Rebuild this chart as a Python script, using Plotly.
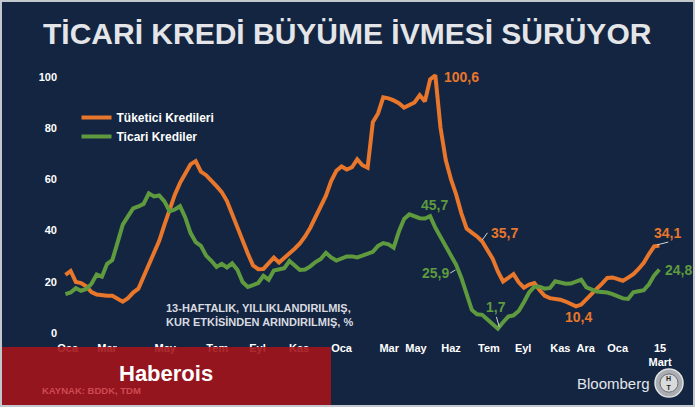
import pandas as pd
import plotly.graph_objects as go

# Weekly data (Fridays), 13-week annualised growth, %
start_date = "2019-01-04"
n_weeks = 115

tuketici = [22.7, 24.2, 19.9, 19.5, 18.2, 16.0, 15.0, 14.7, 14.5, 14.5,
            13.3, 12.2, 13.6, 15.8, 17.3, 22.0, 26.5, 30.5, 36.0, 42.2,
            48.0, 54.0, 58.6, 62.5, 65.8, 67.1, 63.0, 61.6, 59.6, 57.3,
            55.0, 51.5, 46.4, 41.1, 35.4, 31.0, 26.4, 24.9, 25.0, 27.3,
            29.4, 27.5, 29.2, 31.0, 32.9, 35.0, 37.7, 41.1, 45.0, 49.3,
            53.6, 59.3, 63.3, 65.0, 63.8, 64.7, 67.8, 65.5, 64.5, 82.3,
            85.7, 92.0, 91.6, 90.8, 89.7, 88.0, 88.8, 90.0, 92.8, 90.4,
            99.0, 100.6, 80.0, 67.5, 60.0, 54.0, 46.7, 40.8, 39.2, 37.7,
            35.7, 32.3, 29.0, 24.0, 20.1, 21.5, 23.0, 19.8, 17.7, 18.9,
            19.5, 16.8, 14.5, 13.6, 13.3, 13.0, 12.3, 11.3, 10.4, 11.1,
            13.3, 15.2, 17.3, 19.3, 21.5, 21.7, 21.1, 20.4, 21.6, 23.0,
            25.0, 27.4, 30.8, 33.8, 34.1]

ticari = [15.2, 15.8, 17.5, 16.5, 17.2, 19.2, 22.8, 22.0, 27.0, 28.5,
          35.3, 42.3, 45.5, 48.6, 49.4, 50.4, 54.5, 53.3, 53.7, 51.4,
          47.5, 48.2, 49.5, 45.1, 39.1, 35.5, 34.0, 30.2, 28.2, 25.8,
          27.0, 25.6, 27.2, 24.7, 19.9, 18.0, 18.7, 19.5, 22.3, 20.8,
          24.4, 25.0, 25.3, 28.1, 26.1, 24.6, 24.8, 26.0, 27.7, 28.9,
          31.3, 29.5, 28.3, 29.1, 29.9, 29.9, 29.5, 30.2, 30.8, 31.7,
          34.0, 35.1, 34.6, 33.3, 39.6, 44.5, 46.3, 45.4, 44.8, 44.7,
          45.6, 41.1, 37.5, 33.5, 30.3, 26.6, 21.5, 15.3, 9.0, 7.3,
          7.1, 5.3, 3.6, 1.7, 4.2, 6.4, 6.9, 8.6, 12.0, 15.8,
          18.1, 18.1, 17.3, 17.6, 20.2, 19.5, 19.2, 19.3, 20.1, 20.8,
          17.8, 17.0, 16.2, 16.0, 15.8, 15.2, 14.3, 13.5, 13.3, 15.9,
          16.3, 16.7, 19.0, 22.5, 24.8]

tick_dates = ["2019-01-07", "2019-03-01", "2019-05-18", "2019-07-27", "2019-09-19",
              "2019-11-14", "2020-01-10", "2020-03-14", "2020-04-19", "2020-06-05",
              "2020-07-26", "2020-09-10", "2020-10-30", "2020-12-03", "2021-01-15",
              "2021-03-13"]
tick_labels = ["Oca", "Mar", "May", "Tem", "Eyl", "Kas", "Oca", "Mar", "May", "Haz",
               "Tem", "Eyl", "Kas", "Ara", "Oca", "15<br>Mart"]

series_names = ["Tüketici Kredileri", "Ticari Krediler"]

# value labels: (text, x date, y, color key, anchor)
value_labels = [
    ("100,6", "2020-06-19", 100.0, 0, "center"),
    ("35,7", "2020-08-16", 39.1, 0, "center"),
    ("10,4", "2020-11-23", 6.3, 0, "center"),
    ("34,1", "2021-03-23", 39.1, 0, "center"),
    ("45,7", "2020-05-14", 50.0, 1, "center"),
    ("25,9", "2020-05-15", 23.4, 1, "center"),
    ("1,7", "2020-08-04", 10.2, 1, "center"),
    ("24,8", "2021-03-17", 24.6, 1, "left"),
]
leaders = [
    ("2020-07-17", 36.3, "2020-07-24", 39.1),
    ("2020-06-04", 23.4, "2020-06-11", 24.6),
    ("2020-08-05", 6.3, "2020-08-09", 2.3),
    ("2021-03-09", 34.4, "2021-03-24", 35.5),
]

BG = "#132541"
ORANGE = "#e8762b"
GREEN = "#5f9a3f"
colors = [ORANGE, GREEN]
FONT = "Liberation Sans, Arial, sans-serif"

dates = pd.date_range(start_date, periods=n_weeks, freq="7D")

fig = go.Figure()
for name, vals, col in zip(series_names, [tuketici, ticari], colors):
    fig.add_trace(go.Scatter(x=dates, y=vals, mode="lines", name=f"<b>{name}</b>",
                             line=dict(color=col, width=4)))

annotations = []
for text, xd, yv, ci, anc in value_labels:
    annotations.append(dict(x=xd, y=yv, xref="x", yref="y", text=f"<b>{text}</b>",
                            showarrow=False, font=dict(family=FONT, size=14, color=colors[ci]),
                            xanchor=anc, yanchor="middle"))

# title
annotations.append(dict(x=0.47, y=1.115, xref="paper", yref="paper",
                        text="<b>TİCARİ KREDİ BÜYÜME İVMESİ SÜRÜYOR</b>", showarrow=False,
                        font=dict(family=FONT, size=30, color="#e3e5e8"),
                        xanchor="center", yanchor="middle"))
# note
annotations.append(dict(x=0.1718, y=0.067, xref="paper", yref="paper", align="left",
                        text="<b>13-HAFTALIK, YILLIKLANDIRILMIŞ,<br>KUR ETKİSİNDEN ARINDIRILMIŞ, %</b>",
                        showarrow=False, font=dict(family=FONT, size=11, color="#d9dbe0"),
                        xanchor="left", yanchor="middle"))
# watermark
annotations.append(dict(x=0.175, y=-0.149, xref="paper", yref="paper",
                        text="<b>Haberois</b>", showarrow=False,
                        font=dict(family=FONT, size=22, color="#ffffff"),
                        xanchor="center", yanchor="middle"))
annotations.append(dict(x=-0.029, y=-0.212, xref="paper", yref="paper",
                        text="<b>KAYNAK: BDDK, TDM</b>", showarrow=False,
                        font=dict(family=FONT, size=9.5, color="#cf4a52"),
                        xanchor="left", yanchor="middle"))
annotations.append(dict(x=0.962, y=-0.186, xref="paper", yref="paper",
                        text="Bloomberg", showarrow=False,
                        font=dict(family=FONT, size=15, color="#e4e6ea"),
                        xanchor="right", yanchor="middle"))
annotations.append(dict(x=0.990, y=-0.186, xref="paper", yref="paper",
                        text="<b>H<br>T</b>", showarrow=False,
                        font=dict(family=FONT, size=7, color="#222222"),
                        xanchor="center", yanchor="middle"))

shapes = []
for x0, y0, x1, y1 in leaders:
    shapes.append(dict(type="line", xref="x", yref="y", x0=x0, y0=y0, x1=x1, y1=y1,
                       line=dict(color="#d0d4da", width=1)))
# red watermark box
shapes.append(dict(type="rect", xref="paper", yref="paper", x0=-0.1, x1=0.4425,
                   y0=-0.275, y1=-0.052, fillcolor="#a3141b", opacity=0.9,
                   line=dict(width=0), layer="above"))
# HT logo
shapes.append(dict(type="circle", xref="paper", yref="paper", x0=0.9676, x1=1.013,
                   y0=-0.238, y1=-0.134, fillcolor="#a9acb1",
                   line=dict(color="#e0e0e0", width=1.5), layer="above"))
shapes.append(dict(type="circle", xref="paper", yref="paper", x0=0.9757, x1=1.0049,
                   y0=-0.220, y1=-0.152, fillcolor="#d9dadc",
                   line=dict(color="#6a6d72", width=1), layer="above"))
# outer frame
shapes.append(dict(type="rect", xref="paper", yref="paper", x0=-0.0924, x1=1.0308,
                   y0=-0.2714, y1=1.2342, line=dict(color="#c3c8cf", width=2),
                   fillcolor="rgba(0,0,0,0)", layer="above"))

fig.update_layout(
    width=695, height=407,
    margin=dict(l=58, r=20, t=64, b=74),
    paper_bgcolor=BG, plot_bgcolor=BG,
    font=dict(family=FONT, color="#ffffff"),
    showlegend=True,
    legend=dict(x=0.03, y=0.855, xanchor="left", yanchor="top",
                bgcolor="rgba(0,0,0,0)", font=dict(family=FONT, size=12, color="#ffffff"),
                itemwidth=30, tracegroupgap=0),
    annotations=annotations,
    shapes=shapes,
    xaxis=dict(type="date", range=["2018-12-25", "2021-04-02"], tickvals=tick_dates,
               ticktext=[f"<b>{t}</b>" for t in tick_labels], showgrid=False, zeroline=False,
               showline=False, ticks="", tickfont=dict(family=FONT, size=11, color="#ffffff"),
               tickangle=0, ticklabelstandoff=7),
    yaxis=dict(range=[0, 105], tickvals=[0, 20, 40, 60, 80, 100],
               ticktext=["<b>0</b>", "<b>20</b>", "<b>40</b>", "<b>60</b>", "<b>80</b>", "<b>100</b>"],
               showgrid=False, zeroline=False, showline=False, ticks="",
               tickfont=dict(family=FONT, size=11, color="#ffffff")),
)

fig.write_html("out.html", config={"displayModeBar": False},
               post_script="document.body.style.margin='0';document.body.style.overflow='hidden';")
